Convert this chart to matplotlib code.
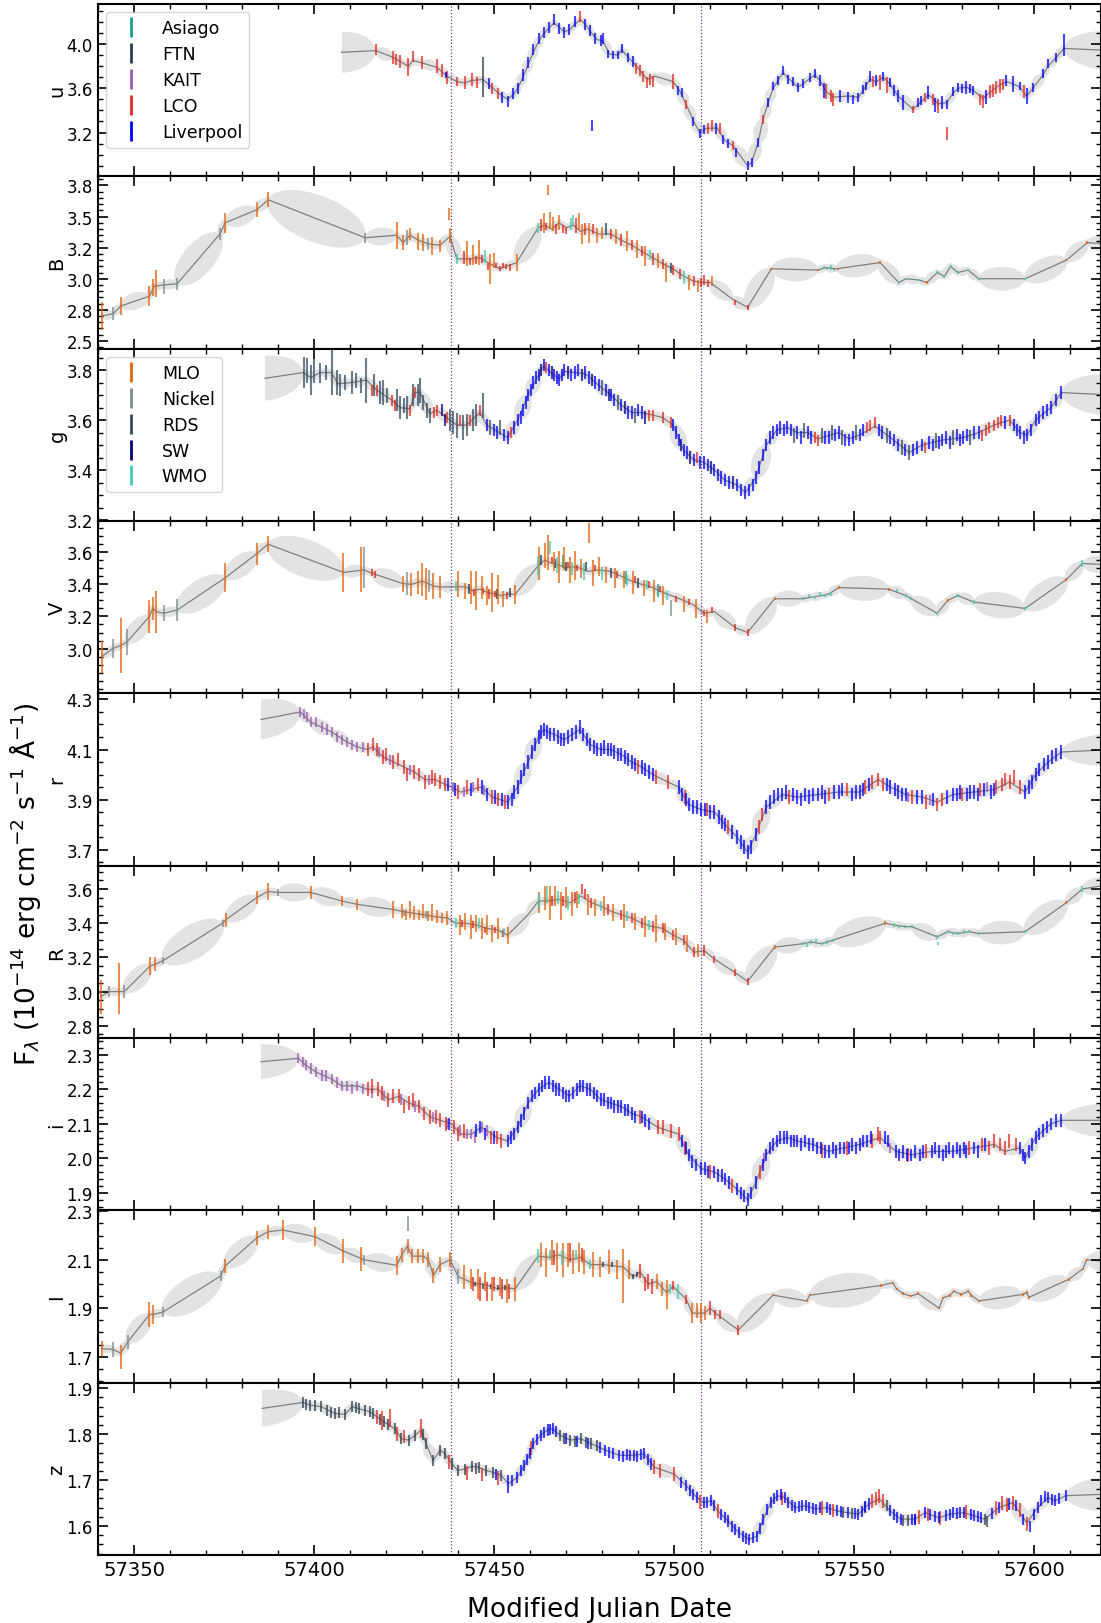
import numpy as np
import matplotlib
matplotlib.use("Agg")
import matplotlib.pyplot as plt
from matplotlib.patches import Ellipse, Rectangle
from matplotlib.transforms import IdentityTransform
from matplotlib.lines import Line2D
from matplotlib.ticker import MultipleLocator, AutoMinorLocator, FormatStrFormatter, FixedLocator

# ---------------- telescopes ----------------
TELESCOPES = ["Asiago", "FTN", "KAIT", "LCO", "Liverpool", "MLO", "Nickel", "RDS", "SW", "WMO"]
TEL_COLORS = {"Asiago": "#17a085", "FTN": "#2c3e50", "KAIT": "#9b59b6", "LCO": "#e0281e",
              "Liverpool": "#0000ff", "MLO": "#e0650f", "Nickel": "#7f8c8d", "RDS": "#34495e",
              "SW": "#000080", "WMO": "#48c9b0"}
LEGEND1 = ["Asiago", "FTN", "KAIT", "LCO", "Liverpool"]
LEGEND2 = ["MLO", "Nickel", "RDS", "SW", "WMO"]

BANDS = ["u", "B", "g", "V", "r", "R", "i", "I", "z"]
EPOCHS = [57438.0, 57507.4]

# ---------------- u band ----------------
u_model = [(57407.6, 3.925), (57417.05, 3.94), (57421.9, 3.88), (57424.5, 3.83), (57426.1, 3.80), (57427.5, 3.85),
           (57429.8, 3.83), (57434.0, 3.79), (57436.8, 3.71), (57439.6, 3.66), (57441.9, 3.65), (57443.7, 3.67),
           (57446.8, 3.68), (57449.0, 3.62), (57451.0, 3.56), (57453.7, 3.50), (57455.5, 3.55), (57457.0, 3.63),
           (57458.5, 3.74), (57460.0, 3.86), (57461.5, 3.97), (57463.0, 4.06), (57464.5, 4.12), (57466.6, 4.19),
           (57468.1, 4.15), (57469.5, 4.11), (57471.0, 4.13), (57472.4, 4.18), (57474.0, 4.22), (57475.5, 4.17),
           (57477.0, 4.10), (57478.5, 4.04), (57480.2, 4.03), (57482.0, 3.91), (57484.4, 3.90), (57485.4, 3.95),
           (57487.2, 3.88), (57489.0, 3.82), (57490.5, 3.76), (57492.5, 3.68), (57494.6, 3.71), (57499.7, 3.66),
           (57501.5, 3.58), (57503.4, 3.45), (57505.3, 3.31), (57507.1, 3.20), (57509.0, 3.24), (57512.0, 3.24),
           (57514.0, 3.13), (57516.4, 3.08), (57520.4, 2.90), (57521.5, 2.93), (57523.3, 3.11), (57524.7, 3.32),
           (57526.1, 3.47), (57527.5, 3.60), (57529.0, 3.68), (57530.3, 3.74), (57531.7, 3.69), (57533.1, 3.65),
           (57534.4, 3.61), (57535.8, 3.64), (57537.7, 3.69), (57539.1, 3.72), (57540.5, 3.67), (57542.3, 3.57),
           (57544.2, 3.52), (57548.4, 3.53), (57551.2, 3.52), (57552.5, 3.58), (57554.4, 3.68), (57556.2, 3.66),
           (57558.1, 3.70), (57559.9, 3.64), (57562.2, 3.53), (57566.4, 3.41), (57568.7, 3.48), (57570.6, 3.54),
           (57571.9, 3.51), (57573.3, 3.46), (57575.7, 3.47), (57577.6, 3.56), (57578.9, 3.60), (57581.2, 3.61),
           (57583.1, 3.58), (57585.8, 3.51), (57587.7, 3.56), (57589.5, 3.61), (57592.3, 3.66), (57594.2, 3.64),
           (57596.0, 3.61), (57597.9, 3.53), (57599.7, 3.60), (57602.5, 3.72), (57603.9, 3.80), (57606.2, 3.88),
           (57608.3, 3.96), (57622.0, 3.94)]
u_err = {"LCO": 0.06, "Liverpool": 0.05, "FTN": 0.18}
u_obs = {
    "LCO": [(57417.05, 3.95, .05), (57421.9, 3.88), (57422.8, 3.86, .05), (57423.8, 3.84), (57426.1, 3.79, .08),
            (57427.5, 3.89, .05), (57429.8, 3.83), (57434.0, 3.80), (57435.4, 3.76), (57436.8, 3.70),
            (57439.6, 3.66, .04), (57441.9, 3.65), (57443.7, 3.68), (57445.1, 3.65, .05), (57449.5, 3.60, .05),
            (57451.0, 3.55, .05), (57473.8, 4.25, .05), (57489.5, 3.78, .05), (57490.5, 3.76, .05),
            (57491.4, 3.71, .05), (57492.5, 3.65, .05), (57493.3, 3.68, .05), (57494.1, 3.66, .05),
            (57499.7, 3.66, .07), (57503.4, 3.45, .04), (57509.5, 3.24, .05), (57510.5, 3.26, .05),
            (57512.7, 3.24, .05), (57516.4, 3.08, .04), (57524.7, 3.32, .04), (57542.3, 3.57, .07),
            (57543.5, 3.53, .05), (57544.2, 3.50), (57555.3, 3.66, .05), (57557.2, 3.65, .07), (57559.0, 3.63, .07),
            (57566.4, 3.41, .03), (57569.7, 3.52, .04), (57571.9, 3.50, .05), (57573.3, 3.44), (57575.7, 3.19),
            (57584.9, 3.50, .05), (57585.8, 3.48), (57587.7, 3.57), (57588.6, 3.58), (57589.5, 3.61),
            (57590.5, 3.62), (57591.4, 3.63, .05), (57597.3, 3.57)],
    "Liverpool": [(57436.5, 3.72, .03), (57448.5, 3.64), (57452.2, 3.52), (57453.7, 3.48), (57455.1, 3.55),
                  (57456.5, 3.60), (57458.0, 3.72), (57459.4, 3.83), (57460.9, 3.95), (57462.3, 4.05),
                  (57463.7, 4.10), (57465.2, 4.15), (57466.6, 4.22), (57468.1, 4.14), (57469.5, 4.10),
                  (57470.9, 4.13), (57472.4, 4.20), (57475.3, 4.18), (57476.7, 4.12), (57477.3, 3.26),
                  (57478.1, 4.05), (57479.6, 4.03), (57480.2, 4.05), (57481.5, 3.91, .04), (57483.0, 3.90, .04),
                  (57484.4, 3.90, .04), (57485.4, 3.96, .04), (57487.2, 3.88, .04), (57488.5, 3.84),
                  (57501.0, 3.58, .04), (57502.2, 3.56, .04), (57505.3, 3.30, .04), (57507.1, 3.19, .04),
                  (57508.2, 3.23, .04), (57511.5, 3.24), (57513.6, 3.14, .04), (57515.0, 3.10, .04),
                  (57517.3, 3.02, .04), (57520.4, 2.90, .04), (57521.5, 2.93, .04), (57523.3, 3.11, .04),
                  (57526.1, 3.47, .04), (57527.5, 3.62, .04), (57528.9, 3.67, .04), (57530.3, 3.76, .04),
                  (57531.7, 3.68, .04), (57533.1, 3.66, .04), (57534.4, 3.61, .04), (57535.8, 3.64, .04),
                  (57537.7, 3.70, .04), (57539.1, 3.73, .04), (57540.5, 3.67), (57541.5, 3.58, .07),
                  (57546.0, 3.53), (57548.4, 3.52), (57549.8, 3.50, .04), (57551.2, 3.52, .04), (57552.5, 3.59, .04),
                  (57553.4, 3.62, .04), (57554.4, 3.71), (57556.2, 3.67), (57558.1, 3.71, .04), (57559.9, 3.65, .04),
                  (57561.0, 3.58), (57562.2, 3.53), (57563.6, 3.47, .07), (57567.8, 3.47, .04), (57568.7, 3.49, .04),
                  (57570.6, 3.56, .06), (57572.6, 3.45, .06), (57574.3, 3.47, .06), (57575.9, 3.45, .04),
                  (57577.6, 3.57, .04), (57578.9, 3.61, .04), (57580.0, 3.60, .04), (57581.2, 3.61, .06),
                  (57582.3, 3.60, .04), (57583.1, 3.58, .04), (57586.6, 3.52, .06), (57592.3, 3.67),
                  (57594.2, 3.64, .07), (57596.0, 3.62, .04), (57597.9, 3.53, .07), (57599.7, 3.61, .04),
                  (57602.5, 3.73, .04), (57603.9, 3.82, .04), (57606.2, 3.88, .04), (57608.3, 3.99, .10)],
    "FTN": [(57446.8, 3.70)],
}

# ---------------- B band ----------------
B_model = [(57340.9, 2.70), (57344.2, 2.72), (57346.2, 2.78), (57354.2, 2.86), (57355.5, 2.94), (57358.1, 2.95),
           (57361.9, 2.96), (57373.8, 3.36), (57375.2, 3.45), (57384.0, 3.555), (57387.2, 3.635), (57414.1, 3.33),
           (57422.9, 3.35), (57424.7, 3.29), (57426.6, 3.35), (57428.9, 3.31), (57431.7, 3.28), (57434.9, 3.27),
           (57437.7, 3.34), (57439.6, 3.16), (57443.3, 3.16), (57446.0, 3.17), (57448.8, 3.12), (57451.6, 3.08),
           (57453.4, 3.10), (57456.2, 3.13), (57462.2, 3.41), (57464.0, 3.43), (57466.0, 3.40), (57468.0, 3.45),
           (57470.0, 3.41), (57472.0, 3.43), (57474.0, 3.38), (57476.0, 3.40), (57479.0, 3.36), (57482.4, 3.36),
           (57485.3, 3.31), (57488.2, 3.27), (57491.0, 3.22), (57494.0, 3.17), (57496.8, 3.12), (57499.7, 3.08),
           (57502.6, 3.02), (57505.5, 2.98), (57508.3, 2.97), (57510.0, 2.97), (57516.0, 2.84), (57520.4, 2.77),
           (57527.0, 3.08), (57540.0, 3.07), (57542.0, 3.09), (57545.0, 3.08), (57557.2, 3.13), (57562.4, 2.97),
           (57564.4, 3.00), (57568.0, 2.99), (57570.2, 2.97), (57573.1, 3.05), (57575.1, 3.02), (57576.8, 3.10),
           (57578.8, 3.05), (57581.7, 3.07), (57584.6, 3.00), (57597.5, 3.00), (57609.0, 3.15), (57614.8, 3.29),
           (57622.0, 3.28)]
B_err = {}
B_obs = {
    "MLO": [(57340.9, 2.70, .11), (57346.2, 2.78, .07), (57354.2, 2.86, .08), (57355.1, 2.93, .07),
            (57356.0, 2.96, .11), (57375.2, 3.45, .08), (57384.0, 3.555, .06), (57387.2, 3.635, .06),
            (57422.9, 3.35, .11), (57424.7, 3.29, .06), (57426.6, 3.36, .05), (57428.9, 3.30, .07),
            (57430.3, 3.29, .07), (57432.6, 3.265, .07), (57434.9, 3.265, .05), (57437.7, 3.345, .06),
            (57437.5, 3.52, .05), (57442.5, 3.20, .10), (57444.2, 3.19, .08), (57445.8, 3.21, .10),
            (57448.8, 3.08, .12), (57449.8, 3.15, .06), (57456.2, 3.13, .07), (57463.8, 3.45, .08),
            (57465.0, 3.71, .04), (57465.6, 3.47, .07), (57466.3, 3.44, .06), (57468.0, 3.45, .06),
            (57473.5, 3.46, .07), (57474.3, 3.36, .08), (57476.2, 3.37, .08), (57478.5, 3.35, .06),
            (57480.0, 3.37, .05), (57483.8, 3.34, .06), (57486.8, 3.30, .08), (57489.6, 3.24, .07),
            (57492.0, 3.18, .08), (57495.4, 3.15, .06), (57497.8, 3.05, .08), (57504.0, 2.97, .06),
            (57506.5, 2.94, .05), (57510.5, 2.98, .04), (57527.0, 3.08, .01), (57540.0, 3.07, .01),
            (57545.5, 3.08, .01), (57557.2, 3.13, .01), (57570.2, 2.97, .01), (57609.0, 3.15, .01),
            (57614.8, 3.29, .01)],
    "Nickel": [(57344.2, 2.72, .05), (57358.1, 2.94, .06), (57361.9, 2.96, .05), (57373.8, 3.36, .05),
               (57414.1, 3.33, .04), (57425.8, 3.33, .06), (57431.7, 3.28, .05)],
    "LCO": [(57441.5, 3.17, .05), (57443.3, 3.14, .03), (57445.0, 3.15, .03), (57446.6, 3.16, .03),
            (57448.3, 3.10, .03), (57450.6, 3.11, .02), (57451.6, 3.08, .02), (57452.5, 3.11, .02),
            (57453.4, 3.10, .02), (57454.3, 3.09, .03), (57463.0, 3.43, .05), (57464.5, 3.42, .03),
            (57467.2, 3.40, .04), (57469.0, 3.40, .03), (57470.0, 3.39, .03), (57472.8, 3.43, .06),
            (57475.2, 3.40, .05), (57477.5, 3.40, .04), (57482.4, 3.36, .04), (57485.3, 3.31, .05),
            (57488.2, 3.27, .04), (57491.0, 3.22, .04), (57494.0, 3.16, .05), (57496.8, 3.12, .04),
            (57499.7, 3.07, .04), (57501.5, 3.04, .04), (57505.5, 2.98, .04), (57507.5, 2.97, .04),
            (57508.3, 2.99, .04), (57509.5, 2.96, .03), (57517.0, 2.81, .02), (57520.4, 2.77, .02)],
    "WMO": [(57439.6, 3.16, .04), (57447.5, 3.18, .05), (57462.2, 3.41, .04), (57471.2, 3.44, .05),
            (57472.0, 3.47, .04), (57493.2, 3.19, .04), (57502.6, 3.01, .05), (57541.5, 3.09, .01),
            (57542.5, 3.08, .01), (57543.5, 3.09, .02), (57544.5, 3.07, .01), (57562.4, 2.97, .01),
            (57564.4, 3.00, .01), (57568.0, 2.99, .01), (57573.1, 3.05, .01), (57575.1, 3.02, .01),
            (57576.8, 3.10, .01), (57578.8, 3.05, .01), (57581.7, 3.07, .01), (57584.6, 3.00, .01),
            (57597.5, 3.00, .01)],
    "FTN": [(57481.0, 3.40, .05), (57499.0, 3.09, .04)],
}

# ---------------- g band ----------------
g_model = [(57386.3, 3.767), (57397.0, 3.79), (57399.0, 3.77), (57401.6, 3.79), (57404.8, 3.79), (57406.5, 3.745),
           (57410.4, 3.75), (57414.5, 3.76), (57417.3, 3.72), (57421.5, 3.68), (57423.8, 3.65), (57426.6, 3.645),
           (57428.0, 3.71), (57429.4, 3.71), (57432.1, 3.625), (57434.0, 3.64), (57437.7, 3.60), (57439.6, 3.58),
           (57442.3, 3.58), (57446.0, 3.63), (57447.9, 3.58), (57450.8, 3.555), (57453.7, 3.53), (57456.5, 3.60),
           (57459.4, 3.70), (57462.3, 3.78), (57463.7, 3.815), (57466.6, 3.78), (57468.1, 3.765), (57469.5, 3.795),
           (57472.4, 3.79), (57475.3, 3.785), (57478.1, 3.75), (57482.4, 3.70), (57485.3, 3.66), (57488.2, 3.63),
           (57491.0, 3.63), (57494.0, 3.62), (57496.8, 3.61), (57499.7, 3.58), (57502.6, 3.48), (57505.5, 3.44),
           (57508.3, 3.43), (57511.2, 3.40), (57514.1, 3.36), (57517.5, 3.34), (57519.8, 3.31), (57522.7, 3.37),
           (57525.6, 3.50), (57528.5, 3.56), (57531.4, 3.57), (57534.2, 3.55), (57537.1, 3.55), (57540.0, 3.525),
           (57545.7, 3.55), (57548.6, 3.525), (57551.5, 3.54), (57555.8, 3.575), (57560.1, 3.53), (57565.3, 3.47),
           (57568.8, 3.50), (57574.5, 3.52), (57580.3, 3.53), (57584.6, 3.55), (57588.9, 3.58), (57593.2, 3.60),
           (57596.1, 3.55), (57598.1, 3.54), (57600.4, 3.60), (57604.7, 3.65), (57607.6, 3.71), (57622.0, 3.70)]
g_err = {"RDS": 0.045, "LCO": 0.022, "Liverpool": 0.025, "SW": 0.025}
g_obs = {
    "RDS": [(57397.0, 3.79, .063), (57398.0, 3.80, .05), (57399.0, 3.76, .06), (57399.9, 3.80, .05),
            (57401.6, 3.79, .04), (57403.2, 3.79, .03), (57404.8, 3.79, .09), (57406.2, 3.75, .05),
            (57407.1, 3.74), (57408.5, 3.75, .03), (57410.4, 3.75), (57411.5, 3.76, .03), (57413.0, 3.74, .03),
            (57414.5, 3.76, .09), (57416.5, 3.74), (57418.2, 3.71), (57419.2, 3.71, .05), (57420.3, 3.70, .03),
            (57423.0, 3.68), (57423.8, 3.65), (57424.8, 3.66, .03), (57425.7, 3.65), (57427.4, 3.70),
            (57428.7, 3.70), (57429.4, 3.72, .05), (57430.3, 3.67, .03), (57431.2, 3.64, .03), (57432.1, 3.62, .03),
            (57437.7, 3.60), (57438.6, 3.59), (57439.6, 3.58, .05), (57441.3, 3.57, .05), (57442.3, 3.58),
            (57444.2, 3.60), (57445.0, 3.62), (57447.0, 3.66, .05), (57448.8, 3.57, .03), (57451.7, 3.57, .03),
            (57480.0, 3.73, .03), (57484.3, 3.67, .03), (57489.2, 3.62, .03), (57533.3, 3.54, .03),
            (57536.1, 3.56, .03), (57541.0, 3.54, .03), (57543.8, 3.55, .03), (57546.7, 3.53, .03),
            (57550.5, 3.55, .03), (57559.0, 3.54, .03), (57563.2, 3.49, .03), (57565.3, 3.47, .03),
            (57572.8, 3.52, .03), (57577.5, 3.53, .03), (57582.3, 3.53, .03)],
    "LCO": [(57415.9, 3.72), (57417.3, 3.72), (57421.5, 3.68), (57422.4, 3.66), (57426.6, 3.64), (57428.0, 3.71),
            (57433.2, 3.63), (57434.0, 3.64), (57437.0, 3.61), (57440.5, 3.60), (57443.2, 3.60), (57446.0, 3.64),
            (57454.6, 3.55), (57464.5, 3.81), (57493.0, 3.62), (57494.0, 3.62), (57496.8, 3.61), (57499.0, 3.59),
            (57506.4, 3.45), (57539.0, 3.53), (57540.0, 3.52), (57553.5, 3.57), (57554.5, 3.58), (57555.8, 3.59),
            (57569.8, 3.49), (57585.6, 3.54), (57586.6, 3.56), (57587.6, 3.57), (57588.9, 3.58), (57589.9, 3.59),
            (57590.9, 3.60), (57593.2, 3.60)],
    "SW": [(57435.4, 3.64), (57436.3, 3.60), (57463.0, 3.80), (57466.0, 3.79), (57470.4, 3.79), (57474.3, 3.78),
           (57477.2, 3.76), (57481.8, 3.70), (57486.3, 3.65), (57492.0, 3.61), (57502.0, 3.50), (57504.5, 3.45),
           (57510.2, 3.41), (57516.3, 3.35)],
    "Liverpool": [(57447.9, 3.58), (57449.8, 3.56), (57450.8, 3.55), (57452.6, 3.54), (57453.7, 3.53),
                  (57455.5, 3.57), (57456.5, 3.60), (57457.3, 3.61), (57458.0, 3.64), (57458.8, 3.67),
                  (57459.4, 3.70), (57460.2, 3.72), (57460.9, 3.75), (57461.6, 3.77), (57462.3, 3.78),
                  (57463.7, 3.82), (57465.2, 3.80), (57466.6, 3.78), (57467.3, 3.77), (57468.1, 3.76),
                  (57468.8, 3.78), (57469.5, 3.80), (57471.3, 3.78), (57472.4, 3.79), (57473.3, 3.80),
                  (57475.3, 3.79), (57476.2, 3.77), (57478.1, 3.75), (57479.0, 3.74), (57481.0, 3.72),
                  (57482.4, 3.70), (57483.4, 3.68), (57485.3, 3.66), (57487.2, 3.63), (57488.2, 3.63),
                  (57490.0, 3.64), (57491.0, 3.63), (57499.7, 3.58), (57500.5, 3.55), (57501.2, 3.52),
                  (57502.6, 3.48), (57503.5, 3.47), (57505.5, 3.44), (57507.3, 3.43), (57508.3, 3.43),
                  (57509.3, 3.42), (57511.2, 3.40), (57512.2, 3.38), (57513.1, 3.37), (57514.1, 3.36),
                  (57515.2, 3.35), (57517.5, 3.34), (57518.7, 3.32), (57519.8, 3.31), (57520.8, 3.32),
                  (57521.8, 3.34), (57522.7, 3.37), (57523.7, 3.41), (57524.6, 3.46), (57525.6, 3.50),
                  (57526.6, 3.53), (57527.5, 3.55), (57528.5, 3.56), (57529.5, 3.57), (57530.4, 3.56),
                  (57531.4, 3.57), (57532.4, 3.56), (57534.2, 3.55), (57535.2, 3.53), (57537.1, 3.55),
                  (57538.0, 3.53), (57542.0, 3.53), (57542.9, 3.53), (57544.8, 3.54), (57545.7, 3.55),
                  (57547.6, 3.52), (57548.6, 3.52), (57549.6, 3.53), (57551.5, 3.54), (57552.5, 3.56),
                  (57556.8, 3.56), (57557.8, 3.55), (57560.1, 3.53), (57561.2, 3.52), (57562.2, 3.50),
                  (57564.2, 3.48), (57566.3, 3.48), (57567.5, 3.49), (57568.8, 3.50), (57570.8, 3.51),
                  (57571.8, 3.50), (57573.7, 3.51), (57574.5, 3.52), (57575.5, 3.53), (57576.6, 3.51),
                  (57578.5, 3.54), (57579.4, 3.52), (57580.3, 3.53), (57581.3, 3.54), (57583.3, 3.55),
                  (57584.6, 3.55), (57592.0, 3.59), (57594.3, 3.58), (57595.2, 3.56), (57596.1, 3.55),
                  (57597.2, 3.53), (57598.1, 3.54), (57599.2, 3.56), (57600.4, 3.60), (57601.5, 3.61),
                  (57602.6, 3.63), (57603.6, 3.64), (57604.7, 3.65), (57606.0, 3.68), (57607.6, 3.71)],
}

# ---------------- V band ----------------
V_model = [(57340.9, 2.95), (57344.0, 3.00), (57346.2, 3.02), (57347.9, 3.04), (57354.2, 3.20), (57355.1, 3.25),
           (57356.0, 3.23), (57358.1, 3.22), (57361.9, 3.24), (57375.2, 3.44), (57384.0, 3.59), (57387.1, 3.65),
           (57408.1, 3.474), (57413.8, 3.49), (57415.9, 3.47), (57424.7, 3.404), (57427.0, 3.40), (57430.0, 3.42),
           (57433.1, 3.39), (57434.9, 3.383), (57439.4, 3.385), (57442.0, 3.385), (57444.0, 3.36), (57446.0, 3.37),
           (57448.0, 3.35), (57450.0, 3.34), (57452.0, 3.33), (57454.0, 3.34), (57455.8, 3.337), (57462.2, 3.516),
           (57464.0, 3.55), (57466.0, 3.53), (57468.0, 3.52), (57470.0, 3.50), (57472.0, 3.51), (57474.0, 3.50),
           (57476.0, 3.48), (57479.0, 3.49), (57482.4, 3.48), (57485.3, 3.45), (57488.2, 3.42), (57491.0, 3.40),
           (57494.0, 3.38), (57496.8, 3.35), (57499.2, 3.33), (57502.6, 3.30), (57505.5, 3.27), (57508.3, 3.22),
           (57511.2, 3.23), (57517.0, 3.13), (57520.4, 3.10), (57527.9, 3.31), (57535.7, 3.31), (57538.0, 3.32),
           (57541.0, 3.33), (57543.0, 3.34), (57545.7, 3.38), (57559.6, 3.37), (57564.4, 3.33), (57565.9, 3.31),
           (57573.1, 3.22), (57576.0, 3.30), (57578.8, 3.33), (57583.2, 3.29), (57597.5, 3.25), (57609.0, 3.43),
           (57613.4, 3.53), (57622.0, 3.52)]
V_err = {}
V_obs = {
    "MLO": [(57340.9, 2.95, .10), (57346.2, 3.02, .17), (57354.2, 3.20, .10), (57355.1, 3.25, .07),
            (57356.0, 3.23, .13), (57375.2, 3.44, .09), (57384.0, 3.59, .07), (57387.1, 3.65, .05),
            (57408.1, 3.474, .12), (57412.9, 3.495, .14), (57424.7, 3.404, .05), (57427.0, 3.40, .07),
            (57428.9, 3.41, .07), (57430.0, 3.43, .10), (57430.9, 3.40, .10), (57433.1, 3.39, .08),
            (57434.9, 3.383, .07), (57440.0, 3.40, .08), (57442.0, 3.36, .05), (57443.5, 3.38, .10),
            (57445.0, 3.36, .12), (57446.5, 3.38, .07), (57448.0, 3.33, .06), (57449.5, 3.35, .12),
            (57451.0, 3.37, .09), (57452.5, 3.31, .05), (57455.8, 3.337, .06), (57462.4, 3.53, .10),
            (57464.0, 3.58, .08), (57465.0, 3.60, .11), (57466.5, 3.54, .06), (57468.0, 3.51, .10),
            (57469.5, 3.56, .07), (57471.0, 3.49, .08), (57472.5, 3.52, .09), (57474.0, 3.50, .06),
            (57476.2, 3.72, .06), (57477.5, 3.47, .08), (57479.0, 3.51, .06), (57481.0, 3.46, .05),
            (57483.5, 3.44, .06), (57486.0, 3.43, .05), (57488.5, 3.41, .07), (57491.5, 3.38, .05),
            (57494.5, 3.36, .07), (57497.0, 3.33, .06), (57502.6, 3.28, .05), (57506.0, 3.25, .06),
            (57509.0, 3.20, .04), (57527.9, 3.31, .01), (57545.7, 3.38, .01), (57559.6, 3.37, .01),
            (57576.0, 3.30, .01), (57609.0, 3.43, .01)],
    "Nickel": [(57344.0, 3.00, .06), (57347.9, 3.04, .08), (57358.1, 3.22, .05), (57361.9, 3.24, .07),
               (57413.8, 3.505, .13), (57425.8, 3.404, .07), (57431.9, 3.42, .07), (57499.2, 3.25, .05)],
    "LCO": [(57415.9, 3.474, .02), (57417.0, 3.46, .02), (57444.5, 3.35, .02), (57447.0, 3.36, .02),
            (57448.6, 3.34, .03), (57450.2, 3.34, .02), (57453.5, 3.33, .02), (57466.0, 3.55, .02),
            (57470.5, 3.52, .02), (57473.0, 3.50, .02), (57478.0, 3.50, .02), (57484.0, 3.46, .02),
            (57489.0, 3.43, .02), (57493.0, 3.40, .02), (57496.0, 3.37, .02), (57500.5, 3.31, .02),
            (57504.0, 3.29, .02), (57508.3, 3.22, .02), (57510.5, 3.24, .02), (57517.0, 3.13, .02),
            (57520.4, 3.10, .02)],
    "WMO": [(57439.4, 3.39, .03), (57462.2, 3.516, .06), (57465.5, 3.63, .04), (57467.5, 3.52, .05),
            (57471.5, 3.50, .04), (57475.0, 3.48, .05), (57480.0, 3.47, .04), (57487.0, 3.42, .03),
            (57492.5, 3.40, .03), (57498.0, 3.33, .03), (57535.7, 3.31, .01), (57537.5, 3.33, .01),
            (57539.0, 3.32, .01), (57540.5, 3.34, .01), (57542.0, 3.33, .01), (57543.5, 3.34, .01),
            (57562.0, 3.36, .01), (57564.4, 3.33, .01), (57565.9, 3.31, .01), (57573.1, 3.22, .01),
            (57578.8, 3.33, .01), (57583.2, 3.29, .01), (57597.5, 3.25, .01), (57613.4, 3.53, .02)],
    "FTN": [(57443.0, 3.37, .03), (57450.8, 3.34, .03), (57454.5, 3.35, .03), (57463.0, 3.55, .03),
            (57467.0, 3.53, .03), (57470.0, 3.51, .03), (57475.5, 3.51, .03), (57482.5, 3.47, .03),
            (57490.0, 3.41, .03)],
    "Asiago": [(57469.0, 3.54, .04), (57486.5, 3.44, .04), (57495.5, 3.36, .04)],
}

# ---------------- r band ----------------
r_model = [(57385.2, 4.22), (57396.1, 4.25), (57399.0, 4.21), (57404.8, 4.17), (57409.1, 4.13), (57412.0, 4.11),
           (57414.8, 4.10), (57416.3, 4.11), (57419.1, 4.07), (57422.0, 4.05), (57424.9, 4.03), (57427.8, 4.01),
           (57430.7, 3.98), (57433.5, 3.98), (57436.4, 3.96), (57438.1, 3.95), (57440.7, 3.93), (57443.6, 3.94),
           (57446.5, 3.95), (57449.4, 3.91), (57453.7, 3.89), (57456.5, 3.95), (57459.4, 4.05), (57462.3, 4.15),
           (57463.7, 4.18), (57466.6, 4.16), (57469.5, 4.14), (57473.8, 4.18), (57476.7, 4.12), (57479.6, 4.10),
           (57482.4, 4.10), (57485.3, 4.08), (57488.2, 4.05), (57491.0, 4.03), (57494.0, 4.00), (57498.3, 3.97),
           (57501.2, 3.95), (57504.0, 3.88), (57507.5, 3.86), (57511.2, 3.85), (57514.1, 3.80), (57517.5, 3.75),
           (57520.4, 3.69), (57522.7, 3.76), (57525.6, 3.87), (57530.0, 3.92), (57534.2, 3.91), (57540.0, 3.92),
           (57545.7, 3.93), (57551.5, 3.93), (57556.7, 3.98), (57560.1, 3.95), (57564.4, 3.92), (57568.8, 3.91),
           (57573.1, 3.89), (57577.4, 3.92), (57583.2, 3.93), (57588.9, 3.94), (57593.2, 3.97), (57597.5, 3.93),
           (57600.4, 4.00), (57603.9, 4.05), (57607.6, 4.09), (57622.0, 4.10)]
r_err = {"KAIT": 0.02, "LCO": 0.027, "Liverpool": 0.027}
r_obs = {
    "KAIT": [(57396.1, 4.25), (57397.2, 4.24), (57398.0, 4.23), (57399.0, 4.21), (57400.5, 4.21), (57402.0, 4.19),
             (57403.4, 4.18), (57404.8, 4.17), (57406.3, 4.15), (57407.7, 4.14), (57409.1, 4.13), (57410.5, 4.12),
             (57412.0, 4.11), (57413.5, 4.11), (57418.0, 4.09), (57421.0, 4.06), (57426.5, 4.02), (57432.0, 3.98),
             (57438.5, 3.95), (57441.5, 3.93), (57444.0, 3.95), (57447.2, 3.94), (57565.0, 3.91), (57571.0, 3.90),
             (57587.0, 3.95)],
    "LCO": [(57414.8, 4.10), (57416.3, 4.12), (57417.5, 4.10), (57419.1, 4.07), (57420.0, 4.08), (57422.0, 4.05),
            (57423.2, 4.06), (57424.9, 4.03), (57425.8, 4.00), (57427.8, 4.01), (57429.0, 4.00), (57430.7, 3.97),
            (57432.8, 3.99), (57433.5, 3.98), (57435.0, 3.97), (57436.4, 3.96), (57440.0, 3.93), (57442.5, 3.95),
            (57445.5, 3.96), (57449.4, 3.91), (57451.0, 3.90), (57453.0, 3.89), (57490.0, 4.03), (57495.0, 3.99),
            (57498.3, 3.97), (57503.0, 3.91), (57509.0, 3.86), (57515.0, 3.79), (57523.5, 3.79), (57524.5, 3.84),
            (57532.0, 3.91), (57543.0, 3.92), (57548.0, 3.94), (57553.0, 3.95), (57555.0, 3.97), (57556.7, 3.98),
            (57558.0, 3.96), (57566.0, 3.91), (57570.0, 3.89), (57573.1, 3.88), (57574.5, 3.90), (57580.0, 3.92),
            (57585.0, 3.94), (57589.5, 3.95), (57591.0, 3.96), (57592.0, 3.98), (57593.2, 3.97), (57594.5, 3.99),
            (57596.0, 3.95)],
    "Liverpool": [(57437.2, 3.96), (57439.2, 3.94), (57443.6, 3.94), (57446.5, 3.95), (57448.0, 3.92),
                  (57450.3, 3.91), (57452.2, 3.90), (57453.7, 3.89), (57454.8, 3.90), (57455.6, 3.93),
                  (57456.5, 3.95), (57457.5, 3.99), (57458.4, 4.02), (57459.4, 4.05), (57460.4, 4.09),
                  (57461.3, 4.12), (57462.3, 4.15), (57463.0, 4.17), (57463.7, 4.18), (57464.6, 4.17),
                  (57465.6, 4.16), (57466.6, 4.16), (57467.6, 4.15), (57468.5, 4.14), (57469.5, 4.14),
                  (57470.6, 4.15), (57471.7, 4.16), (57472.8, 4.17), (57473.8, 4.19), (57474.8, 4.16),
                  (57475.8, 4.14), (57476.7, 4.12), (57477.7, 4.11), (57478.6, 4.10), (57479.6, 4.10),
                  (57480.5, 4.11), (57481.5, 4.10), (57482.4, 4.10), (57483.4, 4.09), (57484.3, 4.08),
                  (57485.3, 4.08), (57486.3, 4.07), (57487.2, 4.06), (57488.2, 4.05), (57489.2, 4.04),
                  (57491.0, 4.03), (57492.0, 4.02), (57493.0, 4.01), (57494.0, 4.00), (57501.2, 3.95),
                  (57502.2, 3.92), (57503.2, 3.90), (57504.0, 3.88), (57505.2, 3.87), (57506.3, 3.87),
                  (57507.5, 3.86), (57508.5, 3.86), (57510.0, 3.85), (57511.2, 3.85), (57512.5, 3.83),
                  (57513.3, 3.81), (57514.1, 3.80), (57516.0, 3.77), (57517.5, 3.75), (57518.5, 3.73),
                  (57519.5, 3.71), (57520.4, 3.69), (57521.4, 3.71), (57522.7, 3.76), (57525.6, 3.87),
                  (57526.6, 3.89), (57527.6, 3.91), (57528.8, 3.92), (57530.0, 3.92), (57531.0, 3.93),
                  (57533.0, 3.92), (57534.2, 3.91), (57535.3, 3.90), (57536.3, 3.92), (57537.4, 3.91),
                  (57538.6, 3.92), (57540.0, 3.92), (57541.2, 3.93), (57542.0, 3.91), (57544.5, 3.93),
                  (57545.7, 3.93), (57546.7, 3.94), (57549.5, 3.92), (57550.5, 3.93), (57551.5, 3.93),
                  (57552.5, 3.94), (57554.0, 3.96), (57559.0, 3.96), (57560.1, 3.95), (57561.3, 3.94),
                  (57562.3, 3.93), (57563.3, 3.92), (57564.4, 3.92), (57567.5, 3.91), (57568.8, 3.91),
                  (57572.0, 3.90), (57575.8, 3.91), (57577.4, 3.92), (57578.5, 3.92), (57579.5, 3.93),
                  (57581.5, 3.92), (57582.3, 3.93), (57583.2, 3.93), (57584.3, 3.92), (57586.0, 3.94),
                  (57588.0, 3.93), (57588.9, 3.94), (57597.5, 3.93), (57598.5, 3.95), (57599.5, 3.97),
                  (57600.4, 4.00), (57601.5, 4.02), (57602.7, 4.04), (57603.9, 4.05), (57605.0, 4.07),
                  (57606.2, 4.08), (57607.6, 4.09)],
}

# ---------------- R band ----------------
R_model = [(57340.6, 2.97), (57342.9, 3.00), (57345.8, 3.00), (57347.2, 3.00), (57354.4, 3.15), (57355.8, 3.16),
           (57357.9, 3.18), (57374.5, 3.40), (57375.4, 3.42), (57384.0, 3.55), (57387.0, 3.585), (57389.8, 3.58),
           (57399.0, 3.58), (57407.6, 3.53), (57412.0, 3.51), (57422.0, 3.48), (57424.3, 3.47), (57427.0, 3.46),
           (57430.0, 3.45), (57433.0, 3.44), (57437.0, 3.43), (57439.3, 3.40), (57442.0, 3.40), (57445.0, 3.39),
           (57448.0, 3.37), (57451.0, 3.36), (57453.7, 3.33), (57459.4, 3.45), (57462.3, 3.53), (57465.0, 3.53),
           (57468.0, 3.54), (57471.0, 3.52), (57474.0, 3.56), (57477.0, 3.52), (57479.6, 3.50), (57482.4, 3.47),
           (57485.3, 3.45), (57488.2, 3.43), (57491.0, 3.40), (57494.0, 3.38), (57496.8, 3.37), (57499.7, 3.33),
           (57502.6, 3.30), (57505.5, 3.23), (57508.3, 3.24), (57511.2, 3.19), (57517.0, 3.11), (57520.4, 3.06),
           (57527.9, 3.26), (57535.7, 3.28), (57538.0, 3.29), (57541.0, 3.28), (57544.0, 3.30), (57558.7, 3.40),
           (57561.0, 3.39), (57564.0, 3.38), (57566.0, 3.38), (57573.1, 3.32), (57576.0, 3.35), (57579.0, 3.34),
           (57582.0, 3.35), (57584.6, 3.34), (57597.5, 3.35), (57609.0, 3.52), (57613.4, 3.60), (57622.0, 3.63)]
R_err = {}
R_obs = {
    "MLO": [(57340.6, 2.97, .10), (57345.8, 3.02, .15), (57354.4, 3.15, .05), (57355.8, 3.16, .04),
            (57375.4, 3.42, .04), (57384.0, 3.55, .04), (57387.0, 3.585, .05), (57399.0, 3.58, .04),
            (57407.6, 3.53, .03), (57412.0, 3.51, .03), (57422.0, 3.48, .05), (57424.3, 3.47, .04),
            (57425.5, 3.45, .03), (57426.6, 3.48, .05), (57427.8, 3.46, .04), (57429.0, 3.45, .03),
            (57430.2, 3.47, .04), (57431.5, 3.44, .03), (57432.6, 3.46, .05), (57434.0, 3.44, .04),
            (57435.5, 3.43, .03), (57437.0, 3.43, .04), (57440.5, 3.39, .06), (57442.0, 3.41, .05),
            (57443.5, 3.38, .07), (57445.0, 3.40, .05), (57446.5, 3.37, .06), (57448.0, 3.39, .06),
            (57449.5, 3.34, .05), (57451.0, 3.37, .06), (57453.7, 3.33, .05), (57462.5, 3.52, .06),
            (57464.0, 3.55, .07), (57465.5, 3.52, .10), (57467.0, 3.56, .06), (57468.5, 3.50, .08),
            (57470.0, 3.55, .06), (57471.5, 3.51, .07), (57473.0, 3.54, .05), (57476.0, 3.51, .06),
            (57478.0, 3.49, .05), (57480.5, 3.50, .06), (57483.0, 3.46, .05), (57486.0, 3.44, .07),
            (57489.0, 3.41, .05), (57492.0, 3.38, .06), (57495.0, 3.37, .08), (57497.5, 3.35, .05),
            (57500.5, 3.32, .05), (57503.5, 3.28, .05), (57506.5, 3.24, .04), (57527.9, 3.26, .01),
            (57558.7, 3.40, .01), (57609.0, 3.52, .01)],
    "Nickel": [(57342.9, 3.00, .03), (57347.2, 3.00, .04), (57357.9, 3.18, .02), (57374.5, 3.40, .02),
               (57389.8, 3.58, .02), (57425.0, 3.46, .02), (57431.0, 3.45, .02)],
    "LCO": [(57441.0, 3.40, .02), (57444.2, 3.39, .02), (57447.3, 3.36, .02), (57450.2, 3.36, .02),
            (57452.3, 3.34, .02), (57466.0, 3.53, .03), (57469.2, 3.53, .03), (57472.5, 3.55, .03),
            (57474.5, 3.60, .03), (57475.3, 3.57, .03), (57477.0, 3.52, .03), (57481.5, 3.48, .03),
            (57485.3, 3.45, .03), (57488.2, 3.43, .03), (57491.0, 3.40, .03), (57494.0, 3.38, .03),
            (57496.8, 3.37, .03), (57499.7, 3.33, .03), (57502.6, 3.30, .03), (57505.5, 3.23, .03),
            (57508.3, 3.24, .03), (57511.2, 3.19, .02), (57517.0, 3.11, .02), (57520.4, 3.06, .02)],
    "WMO": [(57439.3, 3.40, .03), (57445.8, 3.40, .03), (57452.8, 3.35, .02), (57462.3, 3.53, .04),
            (57464.7, 3.57, .05), (57467.8, 3.55, .04), (57470.6, 3.52, .04), (57473.6, 3.54, .03),
            (57479.6, 3.50, .03), (57487.0, 3.44, .03), (57493.0, 3.39, .03), (57535.7, 3.28, .01),
            (57537.0, 3.27, .01), (57538.0, 3.29, .01), (57539.5, 3.30, .01), (57541.0, 3.28, .01),
            (57542.5, 3.29, .01), (57544.0, 3.30, .01), (57561.0, 3.39, .01), (57562.5, 3.38, .01),
            (57564.0, 3.38, .01), (57566.0, 3.38, .01), (57573.1, 3.32, .01), (57573.3, 3.28, .01),
            (57576.0, 3.35, .01), (57577.5, 3.34, .01), (57579.0, 3.34, .01), (57580.5, 3.35, .01),
            (57582.0, 3.35, .01), (57584.6, 3.34, .01), (57597.5, 3.35, .01), (57613.4, 3.60, .02)],
}

# ---------------- i band ----------------
i_model = [(57385.2, 2.28), (57395.6, 2.29), (57397.6, 2.27), (57400.5, 2.25), (57404.8, 2.23), (57407.6, 2.21),
           (57412.0, 2.21), (57414.8, 2.20), (57417.7, 2.20), (57420.6, 2.17), (57423.5, 2.18), (57426.3, 2.16),
           (57429.2, 2.15), (57432.1, 2.12), (57435.0, 2.11), (57438.1, 2.10), (57440.7, 2.07), (57443.6, 2.07),
           (57446.5, 2.09), (57450.8, 2.06), (57453.7, 2.05), (57456.5, 2.09), (57459.4, 2.16), (57462.3, 2.20),
           (57465.2, 2.22), (57468.1, 2.20), (57470.9, 2.18), (57473.8, 2.21), (57476.7, 2.20), (57479.6, 2.17),
           (57482.4, 2.16), (57485.3, 2.15), (57488.2, 2.13), (57491.0, 2.12), (57495.4, 2.09), (57501.2, 2.07),
           (57504.0, 2.01), (57507.5, 1.97), (57511.2, 1.96), (57514.1, 1.94), (57517.5, 1.91), (57520.4, 1.88),
           (57522.7, 1.93), (57525.6, 2.01), (57528.5, 2.05), (57531.4, 2.06), (57534.2, 2.05), (57538.6, 2.04),
           (57542.9, 2.02), (57547.2, 2.03), (57551.5, 2.04), (57557.2, 2.06), (57561.6, 2.02), (57565.9, 2.01),
           (57571.6, 2.02), (57577.4, 2.02), (57583.2, 2.03), (57588.9, 2.04), (57591.8, 2.02), (57596.1, 2.03),
           (57597.5, 2.00), (57600.4, 2.06), (57604.7, 2.10), (57607.6, 2.11), (57622.0, 2.11)]
i_err = {"KAIT": 0.015, "LCO": 0.02, "Liverpool": 0.018}
i_obs = {
    "KAIT": [(57395.6, 2.29), (57396.8, 2.28), (57397.6, 2.27), (57399.0, 2.26), (57400.5, 2.25), (57402.0, 2.24),
             (57403.3, 2.24), (57404.8, 2.23), (57406.2, 2.22), (57407.6, 2.21), (57409.0, 2.21), (57410.5, 2.20),
             (57412.0, 2.21), (57413.4, 2.20), (57416.0, 2.19), (57419.5, 2.18), (57424.0, 2.17), (57428.0, 2.15),
             (57433.0, 2.12), (57437.0, 2.10), (57440.5, 2.08), (57442.5, 2.07), (57443.6, 2.07), (57444.6, 2.06),
             (57446.5, 2.09), (57448.0, 2.08), (57525.0, 2.00), (57560.0, 2.03)],
    "LCO": [(57414.8, 2.20), (57416.0, 2.21), (57417.7, 2.20), (57418.8, 2.19), (57420.6, 2.17), (57421.8, 2.18),
            (57423.5, 2.18), (57425.0, 2.15), (57426.3, 2.16), (57427.5, 2.17), (57429.2, 2.15), (57430.4, 2.13),
            (57432.1, 2.12), (57433.8, 2.12), (57435.0, 2.11), (57436.5, 2.10), (57438.8, 2.09), (57440.0, 2.07),
            (57441.7, 2.08), (57449.0, 2.06), (57450.8, 2.06), (57452.0, 2.05), (57490.5, 2.12), (57495.4, 2.09),
            (57497.0, 2.09), (57499.0, 2.08), (57501.2, 2.07), (57503.0, 2.03), (57510.0, 1.96), (57516.0, 1.92),
            (57523.8, 1.96), (57541.0, 2.02), (57548.0, 2.03), (57555.0, 2.05), (57556.5, 2.07), (57557.2, 2.06),
            (57565.0, 2.01), (57570.0, 2.02), (57582.0, 2.03), (57585.5, 2.04), (57587.5, 2.03), (57588.9, 2.05),
            (57590.5, 2.04), (57591.8, 2.03), (57593.0, 2.05), (57595.0, 2.04)],
    "Liverpool": [(57437.5, 2.10), (57445.0, 2.08), (57446.0, 2.09), (57447.5, 2.07), (57450.0, 2.06),
                  (57453.7, 2.05), (57454.7, 2.06), (57455.6, 2.07), (57456.5, 2.09), (57457.5, 2.11),
                  (57458.4, 2.13), (57459.4, 2.16), (57460.4, 2.18), (57461.3, 2.19), (57462.3, 2.20),
                  (57463.3, 2.21), (57464.2, 2.22), (57465.2, 2.22), (57466.2, 2.21), (57467.1, 2.20),
                  (57468.1, 2.20), (57469.0, 2.19), (57470.0, 2.18), (57470.9, 2.18), (57471.9, 2.19),
                  (57472.9, 2.20), (57473.8, 2.21), (57474.8, 2.21), (57475.8, 2.20), (57476.7, 2.20),
                  (57477.7, 2.19), (57478.6, 2.18), (57479.6, 2.17), (57480.5, 2.17), (57481.5, 2.16),
                  (57482.4, 2.16), (57483.4, 2.15), (57484.3, 2.15), (57485.3, 2.15), (57486.3, 2.14),
                  (57487.2, 2.14), (57488.2, 2.13), (57489.2, 2.12), (57491.0, 2.12), (57492.0, 2.11),
                  (57493.0, 2.10), (57502.2, 2.05), (57503.2, 2.03), (57504.0, 2.01), (57505.0, 1.99),
                  (57506.2, 1.98), (57507.5, 1.97), (57508.5, 1.97), (57509.5, 1.96), (57511.2, 1.96),
                  (57512.3, 1.95), (57513.2, 1.95), (57514.1, 1.94), (57515.2, 1.93), (57517.5, 1.91),
                  (57518.5, 1.90), (57519.5, 1.89), (57520.4, 1.88), (57521.4, 1.90), (57522.7, 1.93),
                  (57524.6, 1.98), (57525.6, 2.01), (57526.6, 2.03), (57527.5, 2.04), (57528.5, 2.05),
                  (57529.5, 2.06), (57530.5, 2.06), (57531.4, 2.06), (57532.4, 2.05), (57533.3, 2.05),
                  (57534.2, 2.05), (57535.3, 2.04), (57536.4, 2.05), (57537.5, 2.04), (57538.6, 2.04),
                  (57539.7, 2.03), (57540.8, 2.03), (57542.0, 2.02), (57542.9, 2.02), (57544.0, 2.03),
                  (57545.1, 2.02), (57546.2, 2.03), (57547.2, 2.03), (57548.6, 2.03), (57549.5, 2.04),
                  (57550.5, 2.03), (57551.5, 2.04), (57552.6, 2.05), (57553.7, 2.05), (57554.7, 2.06),
                  (57558.5, 2.06), (57559.5, 2.05), (57561.6, 2.02), (57562.6, 2.01), (57563.6, 2.02),
                  (57564.7, 2.01), (57565.9, 2.01), (57567.0, 2.02), (57568.2, 2.01), (57569.2, 2.02),
                  (57571.6, 2.02), (57572.6, 2.03), (57573.6, 2.02), (57574.6, 2.01), (57575.6, 2.02),
                  (57576.5, 2.03), (57577.4, 2.02), (57578.5, 2.03), (57579.5, 2.02), (57580.5, 2.03),
                  (57581.2, 2.02), (57583.2, 2.03), (57584.3, 2.02), (57586.5, 2.04), (57596.1, 2.03),
                  (57597.0, 2.01), (57597.5, 2.00), (57598.5, 2.02), (57599.5, 2.04), (57600.4, 2.06),
                  (57601.5, 2.07), (57602.6, 2.08), (57603.6, 2.09), (57604.7, 2.10), (57606.0, 2.11),
                  (57607.6, 2.11)],
}

# ---------------- I band ----------------
I_model = [(57340.9, 1.733), (57344.0, 1.73), (57346.2, 1.715), (57348.1, 1.76), (57354.2, 1.874), (57355.1, 1.874),
           (57357.9, 1.884), (57374.0, 2.033), (57375.2, 2.074), (57384.0, 2.19), (57387.1, 2.215), (57391.2, 2.223),
           (57400.2, 2.195), (57408.1, 2.136), (57413.8, 2.10), (57422.9, 2.077), (57424.3, 2.12), (57425.9, 2.157),
           (57427.1, 2.115), (57430.3, 2.115), (57431.7, 2.10), (57433.1, 2.035), (57434.9, 2.08), (57437.7, 2.10),
           (57440.0, 2.03), (57442.8, 2.012), (57445.0, 2.00), (57447.0, 2.00), (57449.0, 1.99), (57451.0, 1.98),
           (57453.0, 1.985), (57455.8, 1.98), (57462.2, 2.115), (57465.0, 2.11), (57468.0, 2.12), (57471.0, 2.10),
           (57474.0, 2.11), (57476.6, 2.08), (57480.2, 2.08), (57485.9, 2.07), (57488.6, 2.03), (57490.5, 2.05),
           (57492.8, 2.00), (57495.1, 2.01), (57497.9, 1.965), (57499.7, 1.99), (57503.4, 1.936), (57505.0, 1.88),
           (57508.5, 1.88), (57509.9, 1.90), (57512.0, 1.874), (57517.8, 1.81), (57527.5, 1.954), (57536.8, 1.93),
           (57537.7, 1.954), (57557.6, 1.994), (57560.7, 2.005), (57561.8, 1.98), (57563.6, 1.96), (57565.7, 1.95),
           (57567.8, 1.96), (57573.6, 1.90), (57574.7, 1.943), (57576.6, 1.953), (57577.7, 1.97), (57579.8, 1.957),
           (57581.7, 1.97), (57582.6, 1.953), (57584.7, 1.93), (57596.9, 1.957), (57597.9, 1.965), (57598.6, 1.945),
           (57609.6, 2.019), (57613.6, 2.063), (57614.6, 2.10), (57622.0, 2.09)]
I_err = {}
I_obs = {
    "MLO": [(57340.9, 1.733, .03), (57346.2, 1.70, .05), (57354.2, 1.874, .05), (57355.1, 1.874, .04),
            (57375.2, 2.074, .03), (57384.0, 2.19, .03), (57387.1, 2.215, .03), (57391.2, 2.223, .04),
            (57400.2, 2.195, .04), (57408.1, 2.136, .05), (57412.9, 2.104, .05), (57422.9, 2.077, .04),
            (57424.3, 2.12, .03), (57425.9, 2.157, .03), (57427.1, 2.115, .03), (57428.9, 2.115, .03),
            (57430.3, 2.115, .03), (57431.7, 2.10, .03), (57433.1, 2.035, .03), (57434.9, 2.08, .03),
            (57437.7, 2.10, .03), (57441.5, 2.03, .05), (57443.5, 2.02, .04), (57445.5, 2.00, .06),
            (57447.5, 2.01, .04), (57449.5, 1.98, .05), (57451.5, 1.99, .04), (57453.5, 1.97, .05),
            (57455.8, 1.98, .05), (57463.0, 2.12, .05), (57464.5, 2.09, .06), (57466.0, 2.13, .05),
            (57467.5, 2.11, .06), (57469.0, 2.10, .07), (57470.5, 2.12, .05), (57472.0, 2.09, .05),
            (57473.5, 2.11, .06), (57475.0, 2.09, .05), (57477.5, 2.08, .05), (57479.5, 2.07, .04),
            (57482.0, 2.09, .05), (57484.0, 2.06, .04), (57485.9, 2.033, .11), (57487.5, 2.06, .04),
            (57495.1, 2.01, .03), (57496.5, 1.98, .03), (57497.9, 1.957, .06), (57505.0, 1.88, .04),
            (57506.3, 1.89, .03), (57507.5, 1.88, .04), (57508.5, 1.88, .03), (57527.5, 1.954, .005),
            (57536.8, 1.93, .005), (57537.7, 1.954, .005), (57557.6, 1.994, .005), (57560.7, 2.005, .005),
            (57561.8, 1.98, .005), (57563.6, 1.96, .005), (57565.7, 1.95, .005), (57567.8, 1.96, .005),
            (57573.6, 1.90, .005), (57574.7, 1.943, .005), (57576.6, 1.953, .005), (57577.7, 1.97, .005),
            (57579.8, 1.957, .005), (57581.7, 1.97, .005), (57582.6, 1.953, .005), (57584.7, 1.93, .005),
            (57596.9, 1.957, .005), (57597.9, 1.965, .005), (57598.6, 1.945, .005), (57609.6, 2.019, .005),
            (57613.6, 2.063, .005), (57614.6, 2.10, .005)],
    "Nickel": [(57344.0, 1.73, .03), (57348.1, 1.76, .03), (57357.9, 1.884, .02), (57374.0, 2.033, .02),
               (57413.8, 2.10, .02), (57425.9, 2.25, .03), (57440.0, 2.03, .03)],
    "LCO": [(57444.0, 2.00, .03), (57446.0, 1.98, .05), (57448.0, 1.97, .04), (57450.0, 2.00, .03),
            (57452.2, 1.98, .04), (57454.0, 1.97, .03), (57466.7, 2.11, .03), (57471.0, 2.13, .04),
            (57474.3, 2.12, .03), (57490.5, 2.053, .03), (57491.9, 2.00, .03), (57492.8, 2.01, .03),
            (57493.7, 1.99, .03), (57499.7, 1.994, .02), (57503.4, 1.936, .02), (57509.9, 1.90, .03),
            (57511.3, 1.874, .02), (57512.7, 1.874, .02), (57517.8, 1.81, .02)],
    "WMO": [(57462.2, 2.115, .03), (57465.5, 2.12, .02), (57468.8, 2.11, .03), (57472.8, 2.12, .02),
            (57476.6, 2.08, .02), (57498.8, 1.98, .02), (57501.0, 1.97, .03)],
    "FTN": [(57444.7, 2.00, .01), (57446.8, 1.99, .01), (57449.0, 1.99, .01), (57451.0, 1.985, .01),
            (57453.0, 1.985, .01), (57480.2, 2.08, .01), (57482.8, 2.08, .01), (57488.6, 2.03, .01),
            (57489.6, 2.04, .01)],
}

# ---------------- z band ----------------
z_model = [(57385.5, 1.856), (57396.9, 1.869), (57398.8, 1.863), (57401.8, 1.86), (57405.7, 1.845), (57408.6, 1.843),
           (57410.5, 1.86), (57412.5, 1.855), (57415.4, 1.849), (57417.4, 1.838), (57419.3, 1.827), (57422.3, 1.812),
           (57424.2, 1.79), (57426.2, 1.787), (57428.1, 1.798), (57429.7, 1.809), (57431.1, 1.779), (57433.0, 1.743),
           (57435.0, 1.765), (57436.3, 1.757), (57438.3, 1.735), (57439.8, 1.721), (57441.8, 1.724), (57443.8, 1.73),
           (57445.7, 1.728), (57447.7, 1.721), (57449.6, 1.717), (57452.0, 1.71), (57453.9, 1.692), (57456.4, 1.706),
           (57458.4, 1.732), (57459.8, 1.757), (57460.9, 1.779), (57462.9, 1.798), (57464.8, 1.809), (57466.2, 1.812),
           (57468.2, 1.798), (57471.1, 1.787), (57474.0, 1.79), (57477.0, 1.779), (57480.9, 1.765), (57484.8, 1.754),
           (57488.7, 1.754), (57491.6, 1.757), (57494.5, 1.728), (57500.0, 1.713), (57503.3, 1.688), (57506.3, 1.662),
           (57508.2, 1.651), (57510.2, 1.655), (57512.1, 1.633), (57515.0, 1.611), (57518.0, 1.585), (57520.9, 1.571),
           (57522.9, 1.578), (57524.8, 1.615), (57526.8, 1.651), (57528.7, 1.666), (57530.7, 1.662), (57533.6, 1.64),
           (57536.5, 1.644), (57539.5, 1.637), (57542.4, 1.64), (57545.3, 1.633), (57548.2, 1.629), (57551.2, 1.626),
           (57554.1, 1.648), (57557.0, 1.659), (57560.0, 1.633), (57562.9, 1.615), (57566.8, 1.615), (57569.7, 1.629),
           (57573.6, 1.618), (57576.6, 1.626), (57580.5, 1.629), (57583.4, 1.622), (57586.3, 1.615), (57590.2, 1.64),
           (57594.1, 1.651), (57598.0, 1.607), (57601.0, 1.64), (57603.9, 1.662), (57605.9, 1.655), (57608.8, 1.666),
           (57622.0, 1.67)]
z_err = {"FTN": 0.012, "LCO": 0.015, "Liverpool": 0.012}
z_obs = {
    "FTN": [(57396.9, 1.869), (57397.8, 1.865), (57398.8, 1.863), (57400.3, 1.862), (57401.8, 1.86), (57403.5, 1.852),
            (57404.5, 1.848), (57405.7, 1.845), (57407.0, 1.846), (57408.6, 1.843), (57410.5, 1.86), (57411.5, 1.858),
            (57412.5, 1.855), (57414.0, 1.851), (57415.4, 1.849), (57416.4, 1.845), (57418.3, 1.832), (57419.3, 1.827),
            (57420.5, 1.82), (57422.3, 1.812), (57424.2, 1.79), (57426.2, 1.787), (57428.1, 1.798), (57430.2, 1.80),
            (57431.1, 1.779), (57433.0, 1.743), (57435.0, 1.765), (57436.3, 1.757), (57438.3, 1.735), (57439.8, 1.721),
            (57441.8, 1.724), (57443.8, 1.73), (57444.8, 1.725), (57445.7, 1.728), (57447.7, 1.721), (57449.6, 1.717),
            (57452.0, 1.71), (57468.2, 1.798), (57469.5, 1.79), (57471.1, 1.787), (57472.5, 1.783), (57474.0, 1.79),
            (57475.5, 1.782), (57477.0, 1.779), (57478.5, 1.775), (57547.0, 1.63), (57549.5, 1.628), (57553.0, 1.64),
            (57559.0, 1.645), (57563.5, 1.613), (57565.0, 1.612), (57567.0, 1.615), (57586.3, 1.615), (57587.0, 1.61)],
    "LCO": [(57417.4, 1.838), (57418.8, 1.83, .02), (57421.0, 1.835, .02), (57423.0, 1.80), (57424.8, 1.795),
            (57429.7, 1.812, .02), (57437.5, 1.74), (57442.5, 1.715), (57446.5, 1.712), (57451.0, 1.705),
            (57460.2, 1.77), (57494.5, 1.728), (57496.0, 1.72), (57500.0, 1.713), (57507.3, 1.652), (57512.1, 1.633),
            (57530.0, 1.66), (57541.0, 1.64), (57544.0, 1.634), (57555.0, 1.655), (57556.0, 1.66), (57557.0, 1.665),
            (57558.0, 1.655), (57568.0, 1.62), (57570.5, 1.625), (57574.0, 1.617), (57581.0, 1.63), (57589.5, 1.64),
            (57591.0, 1.65), (57592.5, 1.645), (57594.1, 1.651), (57596.0, 1.635), (57598.0, 1.604)],
    "Liverpool": [(57450.5, 1.712), (57453.9, 1.692, .02), (57455.0, 1.70), (57456.4, 1.706), (57457.3, 1.72),
                  (57458.4, 1.732), (57459.2, 1.745), (57459.8, 1.757), (57460.9, 1.779), (57461.8, 1.788),
                  (57462.9, 1.798), (57463.8, 1.803), (57464.8, 1.809), (57465.5, 1.81), (57466.2, 1.812),
                  (57467.2, 1.805), (57470.0, 1.79), (57473.0, 1.785), (57476.0, 1.78), (57479.5, 1.77),
                  (57480.9, 1.765), (57482.0, 1.76), (57483.0, 1.757), (57484.8, 1.754), (57485.8, 1.752),
                  (57486.8, 1.755), (57487.8, 1.753), (57488.7, 1.754), (57489.7, 1.752), (57490.7, 1.756),
                  (57491.6, 1.757), (57492.6, 1.745), (57493.5, 1.735), (57502.0, 1.695), (57503.3, 1.688),
                  (57504.3, 1.678), (57505.3, 1.668), (57506.3, 1.662), (57508.2, 1.651), (57509.2, 1.652),
                  (57510.2, 1.655), (57511.2, 1.645), (57513.1, 1.625), (57514.0, 1.618), (57515.0, 1.611),
                  (57516.0, 1.60), (57517.0, 1.592), (57518.0, 1.585), (57519.0, 1.578), (57520.0, 1.572),
                  (57520.9, 1.571), (57521.9, 1.575), (57522.9, 1.578), (57523.8, 1.595), (57524.8, 1.615),
                  (57525.8, 1.635), (57526.8, 1.651), (57527.8, 1.66), (57528.7, 1.666), (57529.7, 1.668),
                  (57530.7, 1.662), (57531.7, 1.652), (57532.6, 1.645), (57533.6, 1.64), (57534.6, 1.642),
                  (57535.5, 1.645), (57536.5, 1.644), (57537.5, 1.64), (57538.5, 1.638), (57539.5, 1.637),
                  (57540.5, 1.64), (57542.4, 1.64), (57543.3, 1.636), (57545.3, 1.633), (57546.3, 1.631),
                  (57548.2, 1.629), (57550.2, 1.627), (57551.2, 1.626), (57552.2, 1.632), (57553.1, 1.642),
                  (57554.1, 1.648), (57560.0, 1.633), (57561.0, 1.625), (57562.0, 1.618), (57562.9, 1.615),
                  (57566.0, 1.614), (57566.8, 1.615), (57569.7, 1.629), (57571.0, 1.626), (57572.5, 1.62),
                  (57573.6, 1.618), (57575.5, 1.624), (57576.6, 1.626), (57577.6, 1.63), (57578.6, 1.628),
                  (57579.5, 1.63), (57580.5, 1.629), (57582.4, 1.625), (57583.4, 1.622), (57584.4, 1.62),
                  (57585.3, 1.618), (57588.2, 1.628), (57590.2, 1.64), (57593.1, 1.648), (57595.0, 1.645),
                  (57597.0, 1.615), (57599.0, 1.60), (57600.0, 1.625), (57601.0, 1.64), (57602.0, 1.655),
                  (57603.0, 1.665), (57603.9, 1.662), (57605.0, 1.658), (57605.9, 1.655), (57607.0, 1.66),
                  (57608.8, 1.666)],
}

MODELS = {"u": u_model, "B": B_model, "g": g_model, "V": V_model, "r": r_model,
          "R": R_model, "i": i_model, "I": I_model, "z": z_model}
OBS = {"u": (u_obs, u_err), "B": (B_obs, B_err), "g": (g_obs, g_err), "V": (V_obs, V_err),
       "r": (r_obs, r_err), "R": (R_obs, R_err), "i": (i_obs, i_err), "I": (I_obs, I_err), "z": (z_obs, z_err)}
# half-width of the uncertainty envelope at the extrapolated ends (flux units)
START_SIG = {"u": 0.185, "g": 0.09, "r": 0.08, "i": 0.05, "z": 0.04}
END_SIG = {"u": 0.18, "g": 0.085, "r": 0.065, "i": 0.05, "z": 0.038, "I": 0.05}
YLIM = {"u": (2.806, 4.363), "B": (2.439, 3.825), "g": (3.197, 3.886), "V": (2.722, 3.795),
        "r": (3.636, 4.325), "R": (2.729, 3.737), "i": (1.849, 2.349), "I": (1.593, 2.304), "z": (1.537, 1.912)}
YMAJOR = {"u": (0.4, 0.0), "B": (0.25, 0.0), "g": (0.2, 0.0), "V": [3.0, 3.2, 3.4, 3.6], "r": (0.2, 0.1),
          "R": (0.2, 0.0), "i": (0.1, 0.0), "I": (0.2, 0.1), "z": (0.1, 0.0)}
XLIM = (57339.8, 57618.6)

BAND_FILL = "#e3e3e3"
FRAC, PAD = 0.40, 5.0


def add_envelope(ax, t, m, s0, s1):
    t = np.asarray(t, float)
    m = np.asarray(m, float)
    P = ax.transData.transform(np.column_stack([t, m]))
    unit = ax.transData.transform((0, 1.0))[1] - ax.transData.transform((0, 0.0))[1]
    (x0, x1), (y0, y1) = ax.get_xlim(), ax.get_ylim()
    ax.plot(t, m, color=BAND_FILL, lw=5, solid_capstyle="butt", zorder=0.6)
    n = len(t)
    for k in range(n - 1):
        d = P[k + 1] - P[k]
        L = float(np.hypot(d[0], d[1]))
        ang = float(np.degrees(np.arctan2(d[1], d[0])))
        cs = abs(np.cos(np.radians(ang)))
        clip = None
        if k == 0 and s0:
            e = Ellipse(P[k], 2 * L, 2 * s0 * unit * cs, angle=ang, transform=IdentityTransform(),
                        fc=BAND_FILL, ec="none", zorder=0.5)
            clip = Rectangle((t[k], y0), t[k + 1] - t[k], y1 - y0, transform=ax.transData)
        elif k == n - 2 and s1:
            e = Ellipse(P[k + 1], 2 * L, 2 * s1 * unit * cs, angle=ang, transform=IdentityTransform(),
                        fc=BAND_FILL, ec="none", zorder=0.5)
            clip = Rectangle((t[k], y0), min(t[k + 1], x1) - t[k], y1 - y0, transform=ax.transData)
        else:
            e = Ellipse((P[k] + P[k + 1]) / 2, L, FRAC * L + PAD, angle=ang, transform=IdentityTransform(),
                        fc=BAND_FILL, ec="none", zorder=0.5)
        ax.add_patch(e)
        if clip is not None:
            e.set_clip_path(clip)
    ax.plot(t, m, color="#808080", lw=0.9, zorder=1.0)


fig = plt.figure(figsize=(11.01, 16.24), dpi=100)
axes = fig.subplots(9, 1, sharex=True, gridspec_kw=dict(hspace=0.0))
fig.subplots_adjust(left=0.0887, right=1.0, top=0.99704, bottom=0.04187)

for ax, band in zip(axes, BANDS):
    ax.set_xlim(*XLIM)
    ax.set_ylim(*YLIM[band])
    spec = YMAJOR[band]
    if isinstance(spec, list):
        ax.yaxis.set_major_locator(FixedLocator(spec))
    else:
        ax.yaxis.set_major_locator(MultipleLocator(spec[0], offset=spec[1]))
    ax.yaxis.set_minor_locator(AutoMinorLocator())
    ax.yaxis.set_major_formatter(FormatStrFormatter("%.1f"))
    ax.xaxis.set_major_locator(MultipleLocator(50))
    ax.xaxis.set_minor_locator(AutoMinorLocator())
    ax.tick_params(which="both", direction="in", top=True, right=True)
    ax.tick_params(which="major", length=7, width=1.2, labelsize=12)
    ax.tick_params(which="minor", length=3.5, width=1.0)
    ax.tick_params(axis="x", labelsize=14)
    for sp in ax.spines.values():
        sp.set_linewidth(1.5)
    ax.set_ylabel(band, fontsize=14)
    ax.yaxis.set_label_coords(-0.031, 0.5)

    mt = [p[0] for p in MODELS[band]]
    mm = [p[1] for p in MODELS[band]]
    add_envelope(ax, mt, mm, START_SIG.get(band), END_SIG.get(band))

    for ep in EPOCHS:
        ax.axvline(ep, color="#6c3483", ls=":", lw=0.9, zorder=1.5)

    obs, derr = OBS[band]
    for tel in TELESCOPES:
        if tel not in obs:
            continue
        pts = obs[tel]
        tt = [p[0] for p in pts]
        ff = [p[1] for p in pts]
        ee = [p[2] if len(p) > 2 else derr[tel] for p in pts]
        ax.errorbar(tt, ff, yerr=ee, fmt="none", ecolor=TEL_COLORS[tel], elinewidth=1.5,
                    alpha=0.72, capsize=0, zorder=2)


def tel_handles(names):
    return [Line2D([], [], color=TEL_COLORS[n], marker="|", ls="none", ms=14, mew=2) for n in names]


axes[0].legend(tel_handles(LEGEND1), LEGEND1, loc="upper left", fontsize=12.5, labelspacing=0.45)
axes[2].legend(tel_handles(LEGEND2), LEGEND2, loc="upper left", fontsize=12.5, labelspacing=0.45)

axes[-1].set_xlabel("Modified Julian Date", fontsize=19, labelpad=12)
fig.text(0.0227, 0.4557, r"F$_\lambda$ (10$^{-14}$ erg cm$^{-2}$ s$^{-1}$ Å$^{-1}$)",
         rotation=90, fontsize=19, ha="center", va="center")

fig.savefig("out.png", dpi=100)
